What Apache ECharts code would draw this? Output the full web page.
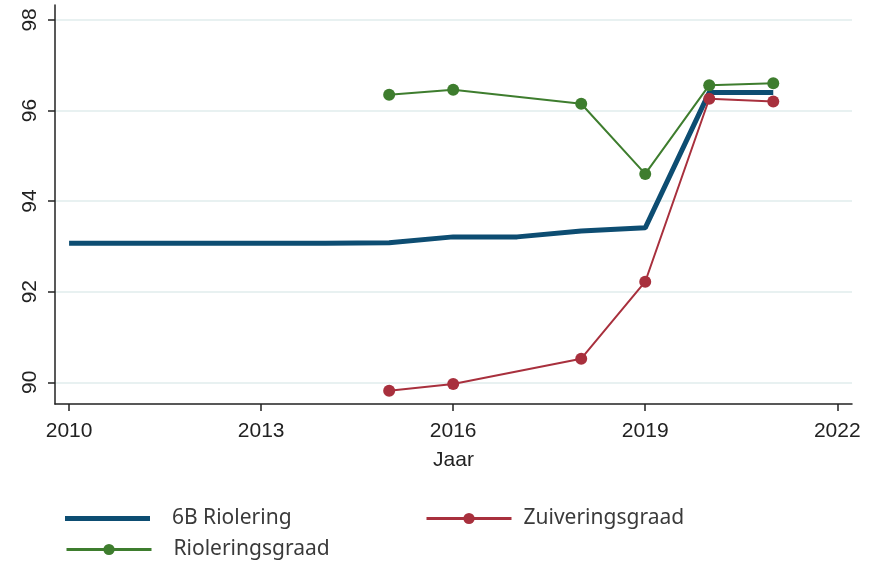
<!DOCTYPE html>
<html>
<head>
<meta charset="utf-8">
<script src="https://cdn.jsdelivr.net/npm/echarts@6/dist/echarts.min.js"></script>
<style>
html,body{margin:0;padding:0;background:#fff;}
#chart{width:883px;height:563px;}
</style>
</head>
<body>
<div id="chart"></div>
<script>
// jaren en waarden
var jarenRiolering=[2010,2011,2012,2013,2014,2015,2016,2017,2018,2019,2020,2021];
var riolering6B=[93.07,93.07,93.07,93.07,93.07,93.08,93.21,93.21,93.34,93.41,96.4,96.4];
var jarenGraad=[2015,2016,2018,2019,2020,2021];
var rioleringsgraad=[96.35,96.46,96.15,94.6,96.56,96.6];
var zuiveringsgraad=[89.81,89.96,90.52,92.22,96.26,96.2];
var xTicks=[2010,2013,2016,2019,2022];
var yTicks=[90,92,94,96,98];

function pairs(x,y){
    var out=[];
    for(var i=0;i<x.length;i++){out.push([x[i],y[i]]);}
    return out;
}

var chart=echarts.init(document.getElementById('chart'));
var axisFont='"Liberation Sans", Arial, sans-serif';
function legendText(pad){
    return {fontFamily:'"Noto Sans"',fontSize:21,color:'#3a3a3a',padding:[0,0,0,pad]};
}
var options={
    animation:false,
    grid:{left:55,right:31,top:5,bottom:159},
    legend:[
        {data:[{name:'6B Riolering',icon:'rect'}],left:60,top:503,itemWidth:85,itemHeight:5,textStyle:legendText(17)},
        {data:['Zuiveringsgraad'],left:420,top:503,itemWidth:85,itemHeight:14,lineStyle:{width:3},textStyle:legendText(7)},
        {data:['Rioleringsgraad'],left:60,top:534,itemWidth:85,itemHeight:14,lineStyle:{width:3},textStyle:legendText(17)}
    ],
    xAxis:{
        type:'value',
        min:2009.78,max:2022.23,
        name:'Jaar',nameLocation:'middle',nameGap:46,
        nameTextStyle:{fontFamily:axisFont,fontSize:21,color:'#222'},
        axisLine:{lineStyle:{color:'#222',width:1.5}},
        axisTick:{customValues:xTicks,length:7,lineStyle:{color:'#222',width:1.5}},
        axisLabel:{customValues:xTicks,fontFamily:axisFont,fontSize:21,color:'#222',margin:17,
            formatter:function(v){return String(v);}},
        splitLine:{show:false}
    },
    yAxis:{
        type:'value',
        min:89.52,max:98.33,
        axisLine:{show:true,lineStyle:{color:'#222',width:1.5}},
        axisTick:{show:true,customValues:yTicks,length:7,lineStyle:{color:'#222',width:1.5}},
        axisLabel:{customValues:yTicks,rotate:90,fontFamily:axisFont,fontSize:21,color:'#222',margin:14},
        splitLine:{show:true,lineStyle:{color:'#e0ecec',width:1.5}}
    },
    series:[
        {
            name:'6B Riolering',
            type:'line',
            symbol:'none',
            data:pairs(jarenRiolering,riolering6B),
            lineStyle:{color:'#0d4d72',width:5},
            itemStyle:{color:'#0d4d72'},
            z:3
        },
        {
            name:'Zuiveringsgraad',
            type:'line',
            symbol:'circle',symbolSize:12,
            data:pairs(jarenGraad,zuiveringsgraad),
            lineStyle:{color:'#a8303d',width:2},
            itemStyle:{color:'#a8303d'},
            z:4
        },
        {
            name:'Rioleringsgraad',
            type:'line',
            symbol:'circle',symbolSize:12,
            data:pairs(jarenGraad,rioleringsgraad),
            lineStyle:{color:'#3e7d2e',width:2},
            itemStyle:{color:'#3e7d2e'},
            z:5
        }
    ]
};
chart.setOption(options);
</script>
</body>
</html>
